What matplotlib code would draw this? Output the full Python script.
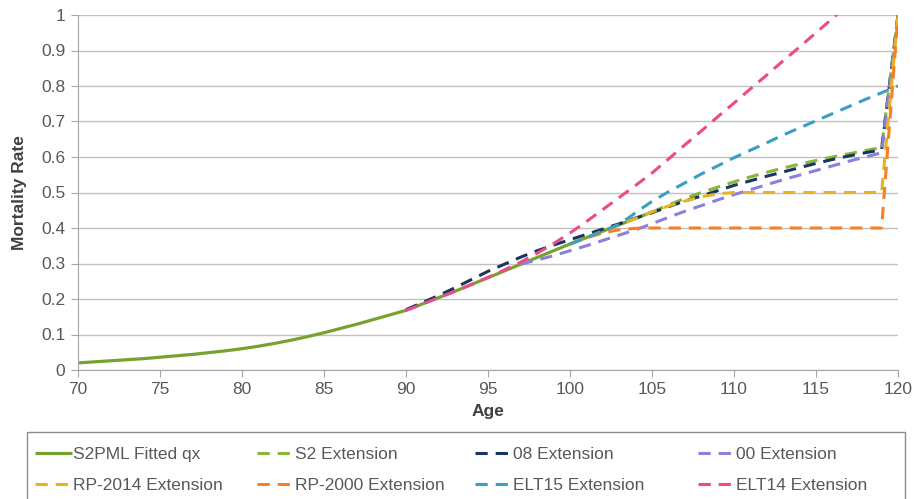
import numpy as np
import matplotlib.pyplot as plt
from matplotlib.patches import Rectangle

plt.rcParams['font.family'] = ['Liberation Sans', 'DejaVu Sans']

# ages and series values
fitted_age = np.arange(70, 106)
fitted_qx = [0.020, 0.023, 0.026, 0.029, 0.032, 0.036, 0.040, 0.044, 0.049, 0.054,
             0.060, 0.067, 0.075, 0.084, 0.094, 0.105, 0.117, 0.129, 0.142, 0.155,
             0.168, 0.186, 0.204, 0.222, 0.241, 0.260, 0.279, 0.298, 0.317, 0.336,
             0.355, 0.373, 0.391, 0.409, 0.427, 0.445]

s2_age = np.arange(105, 121)
s2_qx = [0.445, 0.465, 0.483, 0.500, 0.515, 0.530, 0.544, 0.557, 0.569, 0.580,
         0.590, 0.600, 0.609, 0.618, 0.627, 1.0]

ext08_age = np.arange(90, 121)
ext08_qx = [0.170, 0.190, 0.210, 0.232, 0.255, 0.278, 0.298, 0.318, 0.336, 0.352,
            0.367, 0.382, 0.397, 0.412, 0.428, 0.443, 0.460, 0.476, 0.490, 0.505,
            0.520, 0.533, 0.546, 0.558, 0.570, 0.582, 0.593, 0.603, 0.612, 0.620, 1.0]

ext00_age = np.arange(97, 121)
ext00_qx = [0.298, 0.310, 0.322, 0.336, 0.350, 0.365, 0.380, 0.395, 0.412, 0.430,
            0.447, 0.463, 0.479, 0.494, 0.508, 0.522, 0.536, 0.549, 0.562, 0.575,
            0.588, 0.600, 0.612, 1.0]

rp2014_age = np.arange(100, 121)
rp2014_qx = [0.355, 0.373, 0.391, 0.409, 0.427, 0.445, 0.462, 0.476, 0.488, 0.496,
             0.500, 0.500, 0.500, 0.500, 0.500, 0.500, 0.500, 0.500, 0.500, 0.500, 1.0]

rp2000_age = np.arange(100, 121)
rp2000_qx = [0.355, 0.372, 0.386, 0.395, 0.399, 0.400, 0.400, 0.400, 0.400, 0.400,
             0.400, 0.400, 0.400, 0.400, 0.400, 0.400, 0.400, 0.400, 0.400, 0.400, 1.0]

elt15_age = np.arange(100, 121)
elt15_qx = [0.355, 0.373, 0.391, 0.410, 0.443, 0.475, 0.502, 0.527, 0.552, 0.575,
            0.598, 0.619, 0.640, 0.662, 0.682, 0.702, 0.722, 0.742, 0.762, 0.781, 0.800]

elt14_age = np.arange(90, 121)
elt14_qx = [0.168, 0.186, 0.204, 0.222, 0.241, 0.261, 0.282, 0.304, 0.329, 0.356,
            0.386, 0.418, 0.452, 0.486, 0.520, 0.555, 0.594, 0.634, 0.673, 0.713,
            0.752, 0.792, 0.831, 0.871, 0.910, 0.950, 0.990, 1.030, 1.070, 1.110, 1.150]

series = [
    ("S2 Extension", s2_age, s2_qx, "#8bb43c"),
    ("08 Extension", ext08_age, ext08_qx, "#17375e"),
    ("00 Extension", ext00_age, ext00_qx, "#8e7fd8"),
    ("RP-2014 Extension", rp2014_age, rp2014_qx, "#e6b421"),
    ("RP-2000 Extension", rp2000_age, rp2000_qx, "#f58025"),
    ("ELT15 Extension", elt15_age, elt15_qx, "#3a9fc4"),
    ("ELT14 Extension", elt14_age, elt14_qx, "#ec4a8c"),
]

grey = "#595959"
fs = 12.5
W, H = 916, 499
fig = plt.figure(figsize=(W/100, H/100), dpi=100)
ax = fig.add_axes([78/W, 1-370/H, (898-78)/W, (370-15)/H])

handles = []
h, = ax.plot(fitted_age, fitted_qx, color="#77a22f", lw=2.3, label="S2PML Fitted qx",
             solid_capstyle='butt')
handles.append(h)
for name, a, q, c in series:
    h, = ax.plot(a, q, color=c, lw=2.2, dashes=(4, 2.6), label=name)
    handles.append(h)

ax.set_xlim(70, 120)
ax.set_ylim(0, 1)
ax.set_xticks(np.arange(70, 121, 5))
ax.set_yticks(np.arange(0, 1.01, 0.1))
ax.set_yticklabels(["0", "0.1", "0.2", "0.3", "0.4", "0.5", "0.6", "0.7", "0.8", "0.9", "1"])
ax.yaxis.grid(True, color="#c0c0c0", lw=1)
ax.set_axisbelow(True)
for s in ["top", "right"]:
    ax.spines[s].set_visible(False)
for s in ["left", "bottom"]:
    ax.spines[s].set_color("#a6a6a6")
ax.tick_params(axis='both', colors="#a6a6a6", labelcolor=grey, labelsize=fs, length=5,
               direction='out', pad=4)
ax.set_xlabel("Age", fontsize=fs, fontweight='bold', color="#404040", labelpad=5)
ax.set_ylabel("Mortality Rate", fontsize=fs, fontweight='bold', color="#404040", labelpad=10)

# legend frame, then one small legend per column (fixed column widths)
fig.patches.append(Rectangle((27/W, -0.05), (905-27)/W, 1-432/H+0.05,
                             transform=fig.transFigure, fill=False,
                             edgecolor="#8c8c8c", lw=1))
col_x = [30, 252, 470, 693]
for k, x0 in enumerate(col_x):
    leg = fig.legend(handles=[handles[k], handles[k+4]], loc='upper left',
                     bbox_to_anchor=(x0/W, 1-442/H), borderaxespad=0, fontsize=fs,
                     frameon=False, handlelength=2.1, handletextpad=0.05,
                     labelspacing=0.92, borderpad=0.3)
    for t in leg.get_texts():
        t.set_color(grey)

fig.savefig("out.png", dpi=100)
